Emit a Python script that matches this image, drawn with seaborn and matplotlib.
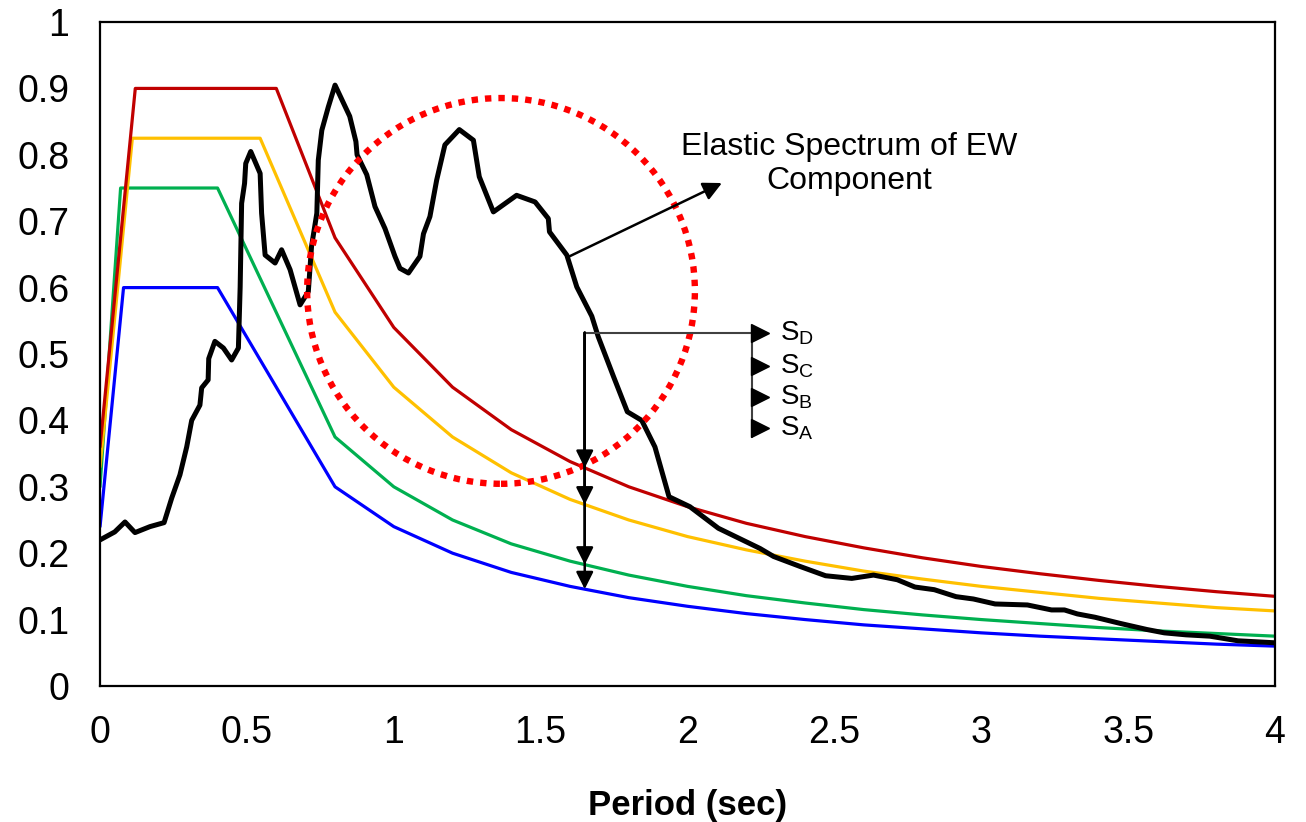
"""Elastic spectrum of the EW component against design spectra for soil classes SA-SD."""

import matplotlib

matplotlib.use("Agg")
import matplotlib.pyplot as plt
import numpy as np
import pandas as pd
import seaborn as sns
from matplotlib.patches import Ellipse
from matplotlib.ticker import FuncFormatter

# --- data ------------------------------------------------------------------
tail_period = [0.8, 1.0, 1.2, 1.4, 1.6, 1.8, 2.0, 2.2, 2.4, 2.6, 2.8, 3.0,
               3.2, 3.4, 3.6, 3.8, 4.0]

# design spectra (S_A .. S_D), ramp + plateau + descending branch
sa_period = [0.0, 0.08, 0.4] + tail_period
sa_accel = [0.24, 0.60, 0.60, 0.300, 0.240, 0.200, 0.171, 0.150, 0.133, 0.120,
            0.109, 0.100, 0.092, 0.086, 0.080, 0.075, 0.071, 0.067, 0.063, 0.060]

sb_period = [0.0, 0.07, 0.4] + tail_period
sb_accel = [0.30, 0.75, 0.75, 0.375, 0.300, 0.250, 0.214, 0.188, 0.167, 0.150,
            0.136, 0.125, 0.115, 0.107, 0.100, 0.094, 0.088, 0.083, 0.079, 0.075]

sc_period = [0.0, 0.11, 0.545] + tail_period
sc_accel = [0.33, 0.825, 0.825, 0.563, 0.450, 0.375, 0.321, 0.281, 0.250, 0.225,
            0.205, 0.188, 0.173, 0.161, 0.150, 0.141, 0.132, 0.125, 0.118, 0.113]

sd_period = [0.0, 0.12, 0.6] + tail_period
sd_accel = [0.36, 0.90, 0.90, 0.675, 0.540, 0.450, 0.386, 0.338, 0.300, 0.270,
            0.245, 0.225, 0.208, 0.193, 0.180, 0.169, 0.159, 0.150, 0.142, 0.135]

# elastic response spectrum, EW component
ew_period = [0.0, 0.05, 0.085, 0.119, 0.17, 0.218, 0.244, 0.272, 0.295, 0.312,
             0.34, 0.346, 0.368, 0.370, 0.391, 0.42, 0.448, 0.471, 0.477, 0.482,
             0.492, 0.496, 0.513, 0.545, 0.55, 0.562, 0.596, 0.618, 0.647, 0.681,
             0.709, 0.72, 0.738, 0.743, 0.755, 0.777, 0.80, 0.85, 0.871, 0.875,
             0.908, 0.936, 0.97, 1.004, 1.021, 1.05, 1.089, 1.101, 1.123, 1.146,
             1.174, 1.223, 1.271, 1.291, 1.339, 1.418, 1.481, 1.526, 1.53, 1.589,
             1.623, 1.674, 1.696, 1.748, 1.795, 1.844, 1.889, 1.937, 2.008, 2.105,
             2.247, 2.293, 2.383, 2.47, 2.559, 2.633, 2.714, 2.774, 2.84, 2.914,
             2.973, 3.047, 3.157, 3.239, 3.283, 3.327, 3.387, 3.475, 3.564, 3.623,
             3.697, 3.778, 3.874, 4.0]
ew_accel = [0.22, 0.232, 0.247, 0.231, 0.24, 0.246, 0.283, 0.318, 0.36, 0.40,
            0.423, 0.449, 0.461, 0.493, 0.519, 0.509, 0.491, 0.509, 0.601, 0.727,
            0.757, 0.787, 0.805, 0.772, 0.712, 0.649, 0.637, 0.657, 0.627, 0.574,
            0.594, 0.662, 0.712, 0.792, 0.837, 0.872, 0.905, 0.858, 0.82, 0.80,
            0.77, 0.722, 0.689, 0.647, 0.629, 0.622, 0.647, 0.681, 0.707, 0.762,
            0.815, 0.838, 0.822, 0.767, 0.714, 0.739, 0.729, 0.704, 0.684, 0.649,
            0.601, 0.557, 0.526, 0.466, 0.413, 0.40, 0.36, 0.285, 0.27, 0.2375,
            0.207, 0.195, 0.18, 0.166, 0.162, 0.167, 0.16, 0.149, 0.145, 0.1345,
            0.131, 0.1235, 0.122, 0.1145, 0.1145, 0.1085, 0.1035, 0.094, 0.085, 0.08,
            0.077, 0.075, 0.068, 0.065]

soil_labels = ["S$_\\mathregular{D}$", "S$_\\mathregular{C}$",
               "S$_\\mathregular{B}$", "S$_\\mathregular{A}$"]
marker_period = 1.65

spectra = [
    ("SA", sa_period, sa_accel, "#0000FF"),
    ("SB", sb_period, sb_accel, "#00B050"),
    ("SC", sc_period, sc_accel, "#FFC000"),
    ("SD", sd_period, sd_accel, "#C00000"),
]

# --- style ------------------------------------------------------------------
sns.set_theme(style="white")
plt.rcParams["font.family"] = ["Liberation Sans", "DejaVu Sans"]
plt.rcParams["mathtext.fontset"] = "custom"
plt.rcParams["mathtext.rm"] = "Liberation Sans"
plt.rcParams["text.color"] = "black"
plt.rcParams["axes.labelcolor"] = "black"

fig = plt.figure(figsize=(13.06, 8.22), dpi=100)
ax = fig.add_axes([0.0766, 0.1655, 0.8997, 0.8077])

for name, period, accel, color in spectra:
    df = pd.DataFrame({"period": period, "accel": accel})
    sns.lineplot(data=df, x="period", y="accel", ax=ax, color=color, lw=2.3,
                 sort=False, estimator=None, zorder=2)

ew = pd.DataFrame({"period": ew_period, "accel": ew_accel})
sns.lineplot(data=ew, x="period", y="accel", ax=ax, color="black", lw=3.6,
             sort=False, estimator=None, zorder=3)

# dotted highlight circle
ax.add_patch(Ellipse((1.365, 0.595), width=1.32, height=0.581, fill=False,
                     edgecolor="#FF0000", lw=4.6, linestyle=(0, (1, 1.1)),
                     zorder=4))

# annotation for the EW curve
ax.annotate("", xy=(2.117, 0.7575), xytext=(1.593, 0.646),
            arrowprops=dict(arrowstyle="-|>", color="black", lw=1.8,
                            mutation_scale=28, shrinkA=0, shrinkB=0), zorder=5)
ax.text(2.55, 0.786, "Elastic Spectrum of EW\nComponent", ha="center",
        va="center", fontsize=23, linespacing=1.15, zorder=5)

# soil class key and the vertical reading line
top_y = 0.532
key_x = 2.22
ax.plot([marker_period, key_x], [top_y, top_y], color="#404040", lw=1.5, zorder=5)
ax.plot([key_x, key_x], [top_y, 0.375], color="#404040", lw=1.5, zorder=5)
key_y = [0.532, 0.482, 0.435, 0.389]
ax.plot([key_x + 0.025] * 4, key_y, ls="none", marker=">", ms=13,
        color="black", zorder=5)
for yy, lab in zip(key_y, soil_labels):
    ax.text(key_x + 0.095, yy, lab, ha="left", va="center", fontsize=20, zorder=5)

for name, period, accel, color in spectra:
    val = float(np.interp(marker_period, period, accel))
    ax.annotate("", xy=(marker_period, val), xytext=(marker_period, top_y),
                arrowprops=dict(arrowstyle="-|>", color="black", lw=1.8,
                                mutation_scale=26, shrinkA=0, shrinkB=0),
                zorder=6)

# --- axes -------------------------------------------------------------------
ax.set_xlim(0, 4)
ax.set_ylim(0, 1)
ax.set_xticks(np.arange(0, 4.01, 0.5))
ax.set_yticks(np.arange(0, 1.01, 0.1))
fmt = FuncFormatter(lambda v, pos: f"{v:g}")
ax.xaxis.set_major_formatter(fmt)
ax.yaxis.set_major_formatter(fmt)
ax.tick_params(axis="both", length=0, labelsize=27, colors="black")
ax.tick_params(axis="y", pad=22)
ax.tick_params(axis="x", pad=21)
ax.set_ylabel("")
ax.set_xlabel("Period (sec)", fontsize=25, fontweight="bold", labelpad=27)
for spine in ax.spines.values():
    spine.set_color("black")
    spine.set_linewidth(1.6)
ax.grid(False)

fig.savefig("out.png", dpi=100)
plt.close(fig)
